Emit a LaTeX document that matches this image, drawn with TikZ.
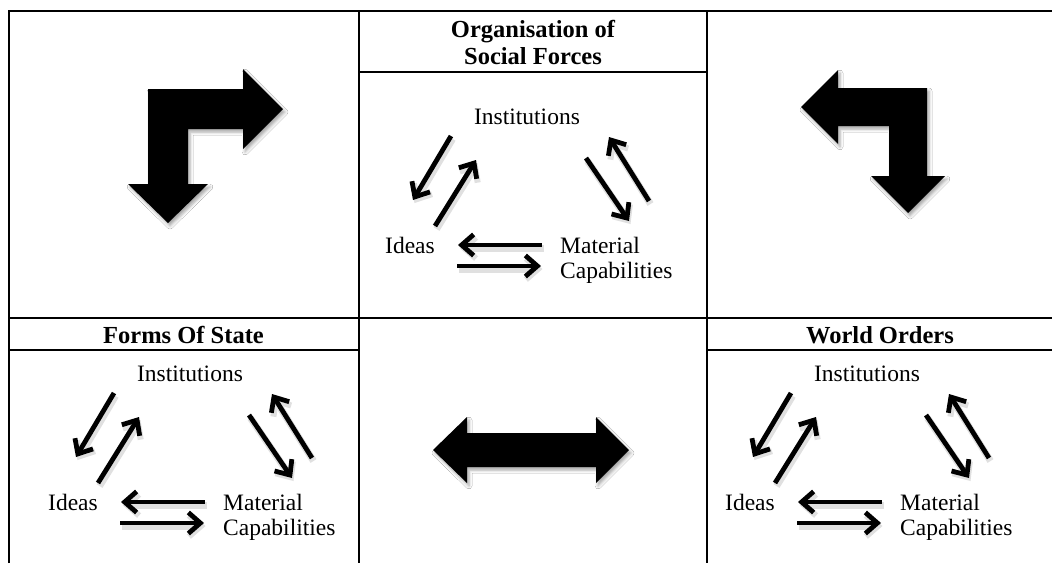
\documentclass[tikz,border=0pt]{standalone}
\usepackage{fontspec}
\setmainfont{Liberation Serif}
\usetikzlibrary{arrows.meta,shadows.blur}

\begin{document}
\begin{tikzpicture}[x=1pt,y=-1pt,
  frame/.style={line width=2.2pt},
  lbl/.style={font=\fontsize{23.5}{28}\selectfont, inner sep=0pt},
  hdr/.style={font=\bfseries\fontsize{24.5}{27}\selectfont, inner sep=0pt},
  small/.style={line width=4.8pt, -{Straight Barb[length=12pt,width=21pt,line width=4.8pt]}},
  smallshadow/.style={line width=7pt, draw=black!12, -{Straight Barb[length=12pt,width=21pt,line width=6pt]}},
  big/.style={fill=black, blur shadow={shadow xshift=2pt, shadow yshift=-3pt, shadow blur radius=3pt, shadow opacity=35}},
  triad/.pic={
    \node[lbl, anchor=base] (-inst) at (0,7) {Institutions};
    \node[lbl, anchor=base east] (-ideas) at (-92,136) {Ideas};
    \node[lbl, anchor=base west] (-mat) at (33,136) {Material};
    \node[lbl, anchor=base west] (-cap) at (33,161) {Capabilities};
    \coordinate (-a1s) at (-76,19);  \coordinate (-a1e) at (-114,83);
    \coordinate (-a2s) at (-92,109); \coordinate (-a2e) at (-51,43);
    \coordinate (-a3s) at (59,41);   \coordinate (-a3e) at (102,104);
    \coordinate (-a4s) at (122,84);  \coordinate (-a4e) at (82,20);
    \coordinate (-a5s) at (15,128);  \coordinate (-a5e) at (-69,128);
    \coordinate (-a6s) at (-70,149); \coordinate (-a6e) at (14,149);
    \foreach \k in {1,...,6}{
      \draw[smallshadow] ([shift={(1.5,3)}]-a\k s) -- ([shift={(1.5,3)}]-a\k e);
    }
    \foreach \k in {1,...,6}{
      \draw[small] (-a\k s) -- (-a\k e);
    }
  }
]
\useasboundingbox (0,0) rectangle (1052,563);
\fill[white] (0,0) rectangle (1052,563);

% table frame
\draw[frame] (9,563) -- (9,11) -- (1052,11);
\draw[frame] (359,11) -- (359,563);
\draw[frame] (707,11) -- (707,563);
\draw[frame] (359,72) -- (707,72);
\draw[frame] (9,318) -- (1052,318);
\draw[frame] (9,350) -- (359,350);
\draw[frame] (707,350) -- (1052,350);

% headers
\node[hdr, anchor=base] (h1a) at (533,37) {Organisation of};
\node[hdr, anchor=base] (h1b) at (533,64) {Social Forces};
\node[hdr, anchor=base] (h2) at (183.5,343) {Forms Of State};
\node[hdr, anchor=base] (h3) at (880,343) {World Orders};

% big arrows
\path[big] (148,89) -- (243,89) -- (243,69) -- (283,109) -- (243,149) -- (243,129)
  -- (188,129) -- (188,184) -- (208,184) -- (168,223) -- (128,184) -- (148,184) -- cycle;
\path[big] (927,88) -- (838,88) -- (838,70) -- (801,107) -- (838,144) -- (838,126)
  -- (889,126) -- (889,176) -- (871,176) -- (908,213) -- (945,176) -- (927,176) -- cycle;
\path[big] (433,450) -- (467,417) -- (467,433) -- (596,433) -- (596,417) -- (629,450)
  -- (596,483) -- (596,467) -- (467,467) -- (467,483) -- cycle;

% triads
\pic (tm) at (527,117) {triad};
\pic (bl) at (190,374) {triad};
\pic (br) at (867,374) {triad};
\end{tikzpicture}
\end{document}
